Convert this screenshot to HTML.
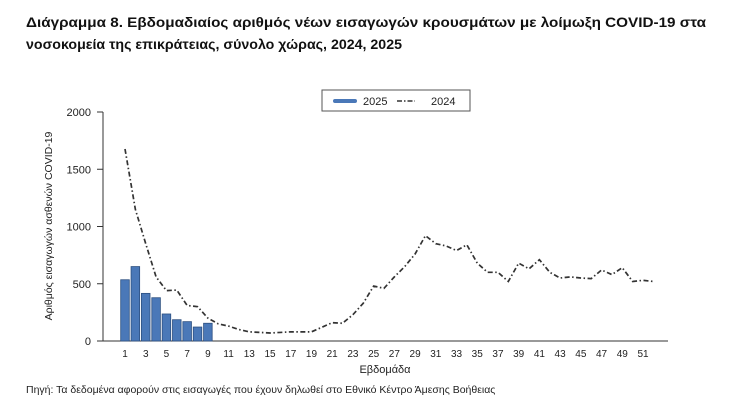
<!DOCTYPE html>
<html><head><meta charset="utf-8"><style>
body{margin:0;background:#fff;width:737px;height:411px;overflow:hidden;font-family:"Liberation Sans",sans-serif}
</style></head><body>
<svg id="chart" width="737" height="411" xmlns="http://www.w3.org/2000/svg" font-family="Liberation Sans, sans-serif">
<text x="26" y="27" font-size="13.5" font-weight="bold" fill="#111" textLength="680" lengthAdjust="spacingAndGlyphs">Διάγραμμα 8. Εβδομαδιαίος αριθμός νέων εισαγωγών κρουσμάτων με λοίμωξη COVID-19 στα</text>
<text x="26" y="49" font-size="13.5" font-weight="bold" fill="#111" textLength="376" lengthAdjust="spacingAndGlyphs">νοσοκομεία της επικράτειας, σύνολο χώρας, 2024, 2025</text>
<g>
<rect x="322" y="90" width="148" height="21" fill="#fff" stroke="#555" stroke-width="1"/>
<rect x="333" y="99" width="24" height="4" rx="2" fill="#4a78b8"/>
<text x="363" y="105" font-size="11" fill="#222">2025</text>
<line x1="397" y1="101" x2="415" y2="101" stroke="#333" stroke-width="1.5" stroke-dasharray="5,2,1.5,2"/>
<text x="431" y="105" font-size="11" fill="#222">2024</text>
</g>
<text transform="translate(52,226) rotate(-90)" text-anchor="middle" font-size="10.5" fill="#222">Αριθμός εισαγωγών ασθενών COVID-19</text>
<text x="385" y="373" text-anchor="middle" font-size="11" fill="#222">Εβδομάδα</text>
<text x="26" y="393" font-size="10.5" fill="#222">Πηγή: Τα δεδομένα αφορούν στις εισαγωγές που έχουν δηλωθεί στο Εθνικό Κέντρο Άμεσης Βοήθειας</text>
<g id="axes"></g><g id="bars"></g><g id="lines"></g>
</svg>
<script>
const weeks2025=[1,2,3,4,5,6,7,8,9];
const values2025=[535,650,416,378,236,186,169,122,155];
const weeks2024=[1,2,3,4,5,6,7,8,9,10,11,12,13,14,15,16,17,18,19,20,21,22,23,24,25,26,27,28,29,30,31,32,33,34,35,36,37,38,39,40,41,42,43,44,45,46,47,48,49,50,51,52];
const values2024=[1677,1150,850,560,440,445,310,300,200,150,130,100,80,75,70,75,80,80,80,120,160,155,230,330,480,460,560,650,760,920,850,830,790,840,680,600,600,520,680,630,710,600,550,560,550,545,620,580,640,520,530,520];
const yTicks=[0,500,1000,1500,2000];
const xTickLabels=[1,3,5,7,9,11,13,15,17,19,21,23,25,27,29,31,33,35,37,39,41,43,45,47,49,51];
const NS="http://www.w3.org/2000/svg";
const x=w=>125+(w-1)*(518/50);
const y=v=>341-v*(229/2000);
function mk(t,a,p){const e=document.createElementNS(NS,t);for(const k in a)e.setAttribute(k,a[k]);p.appendChild(e);return e;}
const ax=document.getElementById('axes');
let l=mk('line',{x1:103,y1:y(2000),x2:103,y2:341,stroke:'#333','stroke-width':1},ax);


l=mk('line',{x1:103,y1:341,x2:668,y2:341,stroke:'#333','stroke-width':1},ax);


yTicks.forEach(v=>{
 const t=mk('line',{x1:97,y1:y(v),x2:103,y2:y(v),stroke:'#333'},ax);
 
 
 const tx=mk('text',{x:91,y:y(v)+4,'text-anchor':'end','font-size':11,fill:'#222'},ax);tx.textContent=v;
 
 
});
xTickLabels.forEach(w=>{
 const tx=mk('text',{x:x(w),y:357,'text-anchor':'middle','font-size':10,fill:'#222'},ax);tx.textContent=w;
 
 
});
const bg=document.getElementById('bars');
weeks2025.forEach((w,i)=>{
 const b=mk('rect',{x:x(w)-4.3,y:y(values2025[i]),width:8.6,height:341-y(values2025[i]),fill:'#4a78b8',stroke:'#2c4f80','stroke-width':0.8},bg);
 
 
});
const pts=weeks2024.map((w,i)=>x(w)+','+y(values2024[i])).join(' ');
const pl=mk('polyline',{points:pts,fill:'none',stroke:'#333','stroke-width':1.7,'stroke-dasharray':'5,2.5,1.5,2.5'},document.getElementById('lines'));


</script>
</body></html>
